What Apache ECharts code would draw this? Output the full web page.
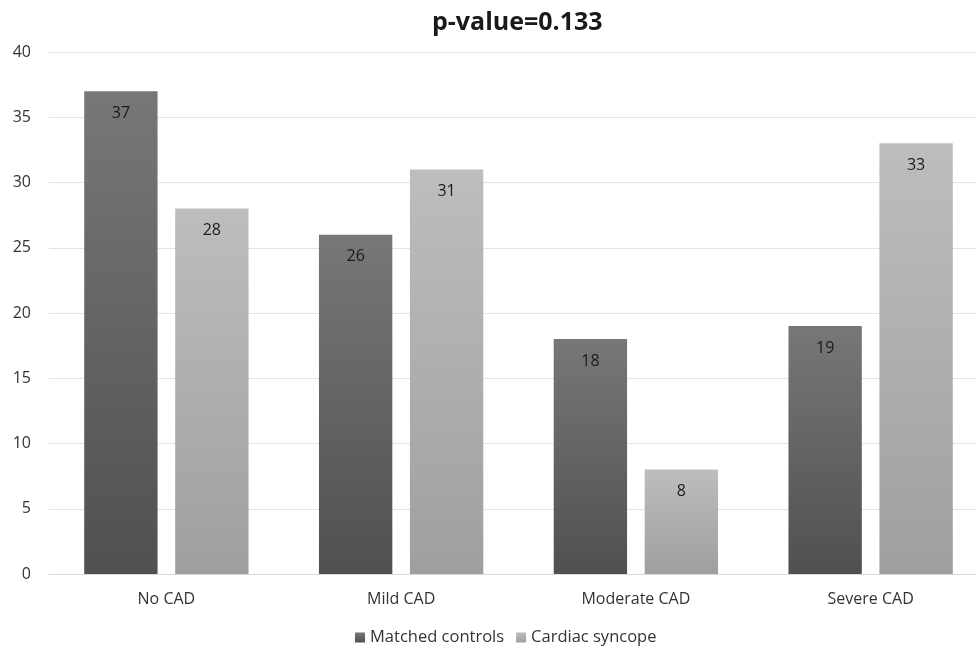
<!DOCTYPE html>
<html><head><meta charset="utf-8">
<script src="https://cdn.jsdelivr.net/npm/echarts@6/dist/echarts.min.js"></script>
<style>html,body{margin:0;padding:0;background:#fff}#c{width:976px;height:649px}</style>
</head><body><div id="c"></div>
<script>
var categories = ['No CAD', 'Mild CAD', 'Moderate CAD', 'Severe CAD'];
var matchedControls = [37, 26, 18, 19];
var cardiacSyncope = [28, 31, 8, 33];
var seriesNames = ['Matched controls', 'Cardiac syncope'];
var titleText = 'p-value=0.133';

var FONT = '"Open Sans", sans-serif';
function grad(top, bottom) {
  return new echarts.graphic.LinearGradient(0, 0, 0, 1, [
    {offset: 0, color: top}, {offset: 1, color: bottom}
  ]);
}
var chart = echarts.init(document.getElementById('c'), null, {renderer: 'canvas'});
chart.setOption({
  animation: false,
  title: {
    text: titleText, left: 427, top: 5,
    textStyle: {fontFamily: FONT, fontSize: 25, fontWeight: 'bold', color: '#1a1a1a'}
  },
  legend: {
    bottom: -2, left: 350, itemWidth: 10, itemHeight: 10, itemGap: 12,
    icon: 'rect',
    textStyle: {fontFamily: FONT, fontSize: 16.5, color: '#333333'},
    data: [
      {name: seriesNames[0], itemStyle: {color: grad('#777777', '#505050')}},
      {name: seriesNames[1], itemStyle: {color: grad('#bdbdbd', '#9f9f9f')}}
    ]
  },
  grid: {left: 49, width: 939, top: 52, height: 522, containLabel: false, outerBoundsMode: 'none'},
  xAxis: {
    type: 'category', data: categories,
    axisLine: {lineStyle: {color: '#d9d9d9', width: 1}},
    axisTick: {show: false},
    axisLabel: {fontFamily: FONT, fontSize: 16, color: '#333333', margin: 17}
  },
  yAxis: {
    type: 'value', min: 0, max: 40, interval: 5,
    axisLine: {show: false}, axisTick: {show: false},
    splitLine: {lineStyle: {color: '#e3e3e3', width: 1}},
    axisLabel: {fontFamily: FONT, fontSize: 16, color: '#333333', margin: 18}
  },
  series: [
    {
      name: seriesNames[0], type: 'bar', data: matchedControls,
      barGap: '24%', barCategoryGap: '30%',
      itemStyle: {color: grad('#777777', '#505050')},
      label: {show: true, position: 'insideTop', distance: 14, fontFamily: FONT, fontSize: 16, color: '#1a1a1a'}
    },
    {
      name: seriesNames[1], type: 'bar', data: cardiacSyncope,
      barGap: '24%', barCategoryGap: '30%',
      itemStyle: {color: grad('#bdbdbd', '#9f9f9f')},
      label: {show: true, position: 'insideTop', distance: 14, fontFamily: FONT, fontSize: 16, color: '#1a1a1a'}
    }
  ]
});
</script></body></html>
